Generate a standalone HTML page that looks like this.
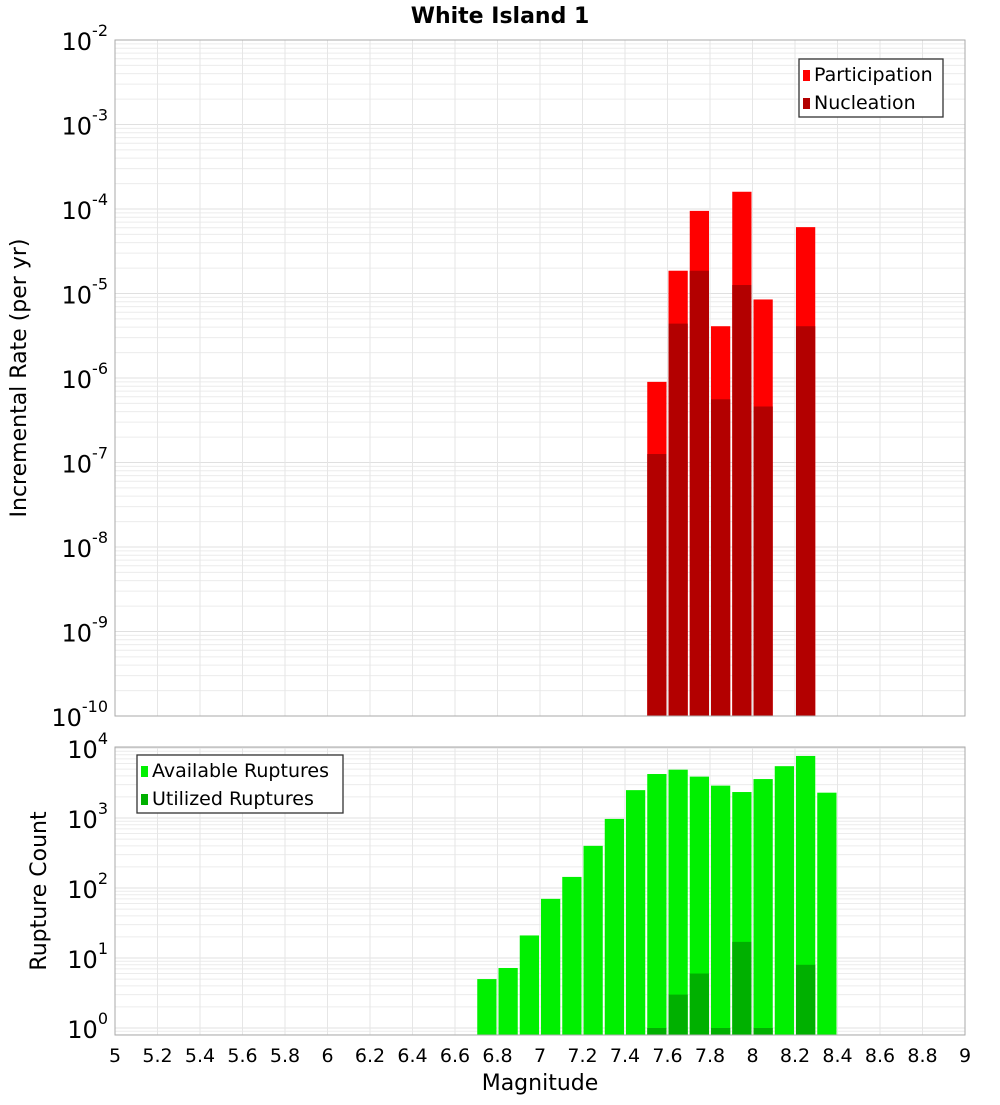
<!DOCTYPE html>
<html><head><meta charset="utf-8"><style>
body{margin:0;background:#fff;font-family:"Liberation Sans","DejaVu Sans",sans-serif}
</style></head><body>
<svg id="c" width="1000" height="1100" xmlns="http://www.w3.org/2000/svg" font-family="DejaVu Sans, Liberation Sans, sans-serif"></svg>
<script>
const topMags=[7.55,7.65,7.75,7.85,7.95,8.05,8.25];
const participation=[9e-7,1.86e-5,9.5e-5,4.1e-6,1.6e-4,8.5e-6,6.1e-5];
const nucleation=[1.26e-7,4.4e-6,1.86e-5,5.6e-7,1.26e-5,4.6e-7,4.1e-6];
const botMags=[6.75,6.85,6.95,7.05,7.15,7.25,7.35,7.45,7.55,7.65,7.75,7.85,7.95,8.05,8.15,8.25,8.35];
const available=[5,7.2,21,70,144,400,970,2500,4250,4900,3900,2900,2350,3600,5500,7700,2300];
const utilMags=[7.55,7.65,7.75,7.85,7.95,8.05,8.25];
const utilized=[1,3,6,1,17,1,8];
const xTicks=[5,5.2,5.4,5.6,5.8,6,6.2,6.4,6.6,6.8,7,7.2,7.4,7.6,7.8,8,8.2,8.4,8.6,8.8,9];

const svg=document.getElementById('c');const NS='http://www.w3.org/2000/svg';
function el(t,a,p){const e=document.createElementNS(NS,t);for(const k in a)e.setAttribute(k,a[k]);(p||svg).appendChild(e);return e;}
const X0=115,X1=965;
const x=m=>X0+(m-5)/4*(X1-X0);
const T0=40,T1=716;const yT=v=>T0+(-2-Math.log10(v))*(T1-T0)/8;
const B0=747,B1=1035;const yB=v=>1028-Math.log10(v)*70;

function grid(y0,y1,yf,dmin,dmax){
  for(let d=dmin;d<=dmax;d++)for(let k=1;k<10;k++){const yy=yf(k*Math.pow(10,d));if(yy<y0-0.5||yy>y1+0.5)continue;
    const l=el('line',{x1:X0,x2:X1,y1:yy,y2:yy,stroke:k==1?'#e0e0e0':'#ececec','stroke-width':1});
    }
  xTicks.forEach(t=>{const l=el('line',{x1:x(t),x2:x(t),y1:y0,y2:y1,stroke:'#e6e6e6'});
    });
}
grid(T0,T1,yT,-10,-3);grid(B0,B1,yB,-1,4);

function bar(m,v,yf,base,fill,name){const r=el('rect',{x:x(m-0.05)+1,y:yf(v),width:x(m+0.05)-x(m-0.05)-2,height:base-yf(v),fill:fill});
  }
topMags.forEach((m,i)=>bar(m,participation[i],yT,T1,'#ff0000','participation-bar'));
topMags.forEach((m,i)=>bar(m,nucleation[i],yT,T1,'#b30000','nucleation-bar'));
botMags.forEach((m,i)=>bar(m,available[i],yB,B1,'#00f000','available-bar'));
utilMags.forEach((m,i)=>bar(m,utilized[i],yB,B1,'#00b000','utilized-bar'));

[[T0,T1,'top-plot-frame'],[B0,B1,'bottom-plot-frame']].forEach(([a,b,n])=>{const r=el('rect',{x:X0,y:a,width:X1-X0,height:b-a,fill:'none',stroke:'#aaa'});
  });

function ylab(yy,exp,name){const t=el('text',{x:108,y:yy+10,'text-anchor':'end','font-size':24,fill:'#000'});
  
  t.innerHTML='10<tspan dy="-14" font-size="16">'+exp+'</tspan>';}
for(let d=-10;d<=-2;d++)ylab(yT(Math.pow(10,d)),d,'y-tick-label');
for(let d=0;d<=4;d++)ylab(yB(Math.pow(10,d)),d,'y-tick-label');

xTicks.forEach(t=>{const e=el('text',{x:x(t),y:1062,'text-anchor':'middle','font-size':19,fill:'#000'});e.textContent=String(t);
  });

function txt(s,a,name){const e=el('text',a);e.textContent=s;return e;}
txt('White Island 1',{x:500,y:23,'text-anchor':'middle','font-size':22,'font-weight':'bold'},'chart-title');
txt('Magnitude',{x:540,y:1090,'text-anchor':'middle','font-size':22},'x-axis-title');
txt('Incremental Rate (per yr)',{x:0,y:0,'text-anchor':'middle','font-size':22,transform:'translate(26,378) rotate(-90)'},'y-axis-title-top');
txt('Rupture Count',{x:0,y:0,'text-anchor':'middle','font-size':22,transform:'translate(46,891) rotate(-90)'},'y-axis-title-bottom');

function legend(lx,ly,w,items,name){const g=el('g',{});
  el('rect',{x:lx,y:ly,width:w,height:58,fill:'#fff',stroke:'#333','stroke-width':1.3},g);
  items.forEach((it,i)=>{const r=el('rect',{x:lx+4,y:ly+11+i*28,width:7,height:11,fill:it[1]},g);
    
    const t=el('text',{x:lx+15,y:ly+22+i*28,'font-size':19},g);t.textContent=it[0];
    });}
legend(799,59,144,[['Participation','#ff0000'],['Nucleation','#b30000']],'legend-top');
legend(137,755,206,[['Available Ruptures','#00f000'],['Utilized Ruptures','#00b000']],'legend-bottom');
</script>
</body></html>
